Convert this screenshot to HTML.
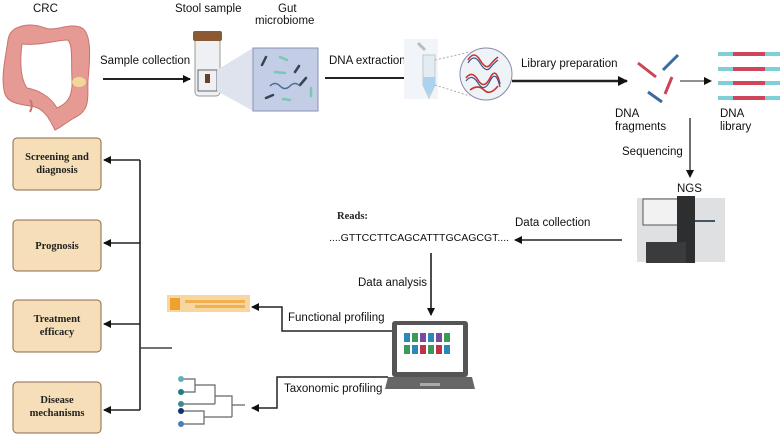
<!DOCTYPE html>
<html><head><meta charset="utf-8"><style>
html,body{margin:0;padding:0;background:#fff}
svg{display:block}
.s{font-family:"Liberation Sans",sans-serif;font-size:11.5px;fill:#111}
.b{font-family:"Liberation Serif",serif;font-weight:bold;font-size:10.5px;fill:#222}
</style></head><body>
<svg width="780" height="434" viewBox="0 0 780 434" xmlns="http://www.w3.org/2000/svg">
<defs>
<marker id="a" markerWidth="8" markerHeight="8" refX="7" refY="4" orient="auto" markerUnits="userSpaceOnUse"><path d="M0,0 L8,4 L0,8 z" fill="#111"/></marker>
<marker id="a2" markerWidth="10" markerHeight="10" refX="9" refY="5" orient="auto" markerUnits="userSpaceOnUse"><path d="M0,0 L10,5 L0,10 z" fill="#111"/></marker>
</defs>
<text class="s" x="33" y="12">CRC</text>
<text class="s" x="175" y="12">Stool sample</text>
<text class="s" x="278" y="12">Gut</text>
<text class="s" x="255" y="24">microbiome</text>
<text class="s" x="100" y="64">Sample collection</text>
<text class="s" x="329" y="64">DNA extraction</text>
<text class="s" x="521" y="67">Library preparation</text>
<text class="s" x="615" y="117">DNA</text><text class="s" x="615" y="130">fragments</text>
<text class="s" x="720" y="117">DNA</text><text class="s" x="720" y="130">library</text>
<text class="s" x="622" y="155">Sequencing</text>
<text class="s" x="677" y="192">NGS</text>
<text class="s" x="515" y="226">Data collection</text>
<text class="b" x="337" y="219">Reads:</text>
<text class="s" x="329" y="241" style="font-size:10.5px">....GTTCCTTCAGCATTTGCAGCGT....</text>
<text class="s" x="358" y="286">Data analysis</text>
<text class="s" x="288" y="321">Functional profiling</text>
<text class="s" x="284" y="392">Taxonomic profiling</text>
<!-- colon -->
<g fill="#e69a94" stroke="#c9736e" stroke-width="1">
<path d="M8,40 C10,25 30,22 45,28 C55,32 70,22 82,28 C92,34 90,60 88,80 C87,95 92,110 74,118 C64,124 60,128 55,130 C50,120 45,110 35,107 C22,104 6,105 4,90 C1,75 6,55 8,40 Z M22,44 C20,60 20,78 27,88 C38,90 50,96 57,108 C66,104 73,98 72,80 C71,60 73,46 68,40 C55,40 40,46 22,44 Z"/>
</g>
<path d="M30,100 C33,104 32,108 30,112" stroke="#c9736e" fill="none" stroke-width="2"/>
<ellipse cx="79" cy="82" rx="7" ry="5" fill="#f1d79a"/>
<line x1="103" y1="79" x2="190" y2="79" stroke="#222" stroke-width="2" marker-end="url(#a)"/>
<!-- stool tube -->
<rect x="195" y="38" width="25" height="58" rx="4" fill="#eef0f3" stroke="#999"/>
<rect x="193" y="31" width="29" height="10" rx="2" fill="#8a5a35"/>
<rect x="198" y="70" width="19" height="21" fill="none" stroke="#666"/>
<rect x="205" y="74" width="5" height="9" fill="#6b3f26"/>
<polygon points="217,70 253,48 253,111 217,91" fill="#dfe3ee"/>
<rect x="253" y="48" width="65" height="63" fill="#c3cde5" stroke="#8793b5"/>
<g stroke="#345" stroke-width="2.5" stroke-linecap="round">
<line x1="262" y1="65" x2="266" y2="57"/><line x1="295" y1="72" x2="299" y2="66"/><line x1="300" y1="85" x2="306" y2="78"/><line x1="266" y1="98" x2="273" y2="95"/>
</g>
<g stroke="#7cc6b6" stroke-width="2.5" stroke-linecap="round">
<line x1="280" y1="57" x2="287" y2="60"/><line x1="275" y1="72" x2="285" y2="73"/><line x1="283" y1="99" x2="290" y2="100"/><line x1="311" y1="96" x2="311" y2="88"/>
</g>
<path d="M270,86 q5,-5 10,0 t10,0 t10,0" stroke="#4a6d95" fill="none" stroke-width="1.5"/>
<line x1="325" y1="78" x2="413" y2="78" stroke="#222" stroke-width="2" marker-end="url(#a)"/>
<!-- ep tube -->
<rect x="404" y="39" width="34" height="60" fill="#f1f4f8"/>
<path d="M423,55 L435,55 L435,85 L429,98 L423,85 Z" fill="#e4ecf3" stroke="#bcc"/>
<path d="M423,77 L435,77 L435,85 L429,96 L423,85 Z" fill="#a9d3ee"/>
<path d="M418,43 L425,50" stroke="#bbb" stroke-width="3"/>
<line x1="435" y1="60" x2="470" y2="52" stroke="#aaa" stroke-dasharray="2,2"/>
<line x1="435" y1="85" x2="470" y2="96" stroke="#aaa" stroke-dasharray="2,2"/>
<circle cx="486" cy="74" r="26" fill="#eef3f8" stroke="#88a"/>
<path d="M468,60 q6,-10 12,0 t10,5 t8,-8 M466,78 q6,-8 12,2 t12,-2 t10,6 M470,90 q8,-6 14,0 t14,-4" stroke="#c33" stroke-width="1.6" fill="none"/>
<path d="M468,63 q6,-10 12,0 t10,5 t8,-8 M466,81 q6,-8 12,2 t12,-2 t10,6" stroke="#358" stroke-width="1.2" fill="none"/>
<line x1="512" y1="81" x2="627" y2="81" stroke="#222" stroke-width="2.5" marker-end="url(#a2)"/>
<!-- fragments -->
<g stroke-width="3">
<line x1="638" y1="63" x2="656" y2="77" stroke="#cc4455"/><line x1="663" y1="70" x2="678" y2="55" stroke="#3a6aa0"/>
<line x1="665" y1="94" x2="672" y2="77" stroke="#cc4455"/><line x1="648" y1="92" x2="662" y2="102" stroke="#3a6aa0"/>
</g>
<line x1="680" y1="81" x2="711" y2="81" stroke="#222" stroke-width="1" marker-end="url(#a)"/>
<g>
<rect x="718" y="52" width="62" height="4" fill="#7fd0d6"/><rect x="733" y="52" width="32" height="4" fill="#d0455a"/>
<rect x="718" y="67" width="62" height="4" fill="#7fd0d6"/><rect x="733" y="67" width="32" height="4" fill="#d0455a"/>
<rect x="718" y="81" width="62" height="4" fill="#7fd0d6"/><rect x="733" y="81" width="32" height="4" fill="#d0455a"/>
<rect x="718" y="96" width="62" height="4" fill="#7fd0d6"/><rect x="733" y="96" width="32" height="4" fill="#d0455a"/>
</g>
<line x1="690" y1="118" x2="690" y2="177" stroke="#111" stroke-width="1.2" marker-end="url(#a)"/>
<!-- NGS -->
<rect x="637" y="198" width="88" height="64" fill="#dfe0e2"/>
<rect x="643" y="199" width="36" height="26" fill="#f2f2f2" stroke="#555"/>
<rect x="677" y="196" width="18" height="67" fill="#2d2e30"/>
<rect x="646" y="242" width="40" height="21" fill="#3a3b3d"/>
<rect x="695" y="220" width="20" height="2" fill="#456"/>
<line x1="622" y1="240" x2="515" y2="240" stroke="#222" stroke-width="1.5" marker-end="url(#a)"/>
<line x1="431" y1="253" x2="431" y2="315" stroke="#111" stroke-width="1.5" marker-end="url(#a)"/>
<!-- laptop -->
<rect x="392" y="321" width="76" height="56" rx="3" fill="#555"/>
<rect x="397" y="325" width="66" height="47" fill="#fff"/>
<g>
<rect x="404" y="333" width="6" height="9" fill="#2a8ab5"/><rect x="412" y="333" width="6" height="9" fill="#3a9a5a"/><rect x="420" y="333" width="6" height="9" fill="#7b4aa0"/><rect x="428" y="333" width="6" height="9" fill="#2a8ab5"/><rect x="436" y="333" width="6" height="9" fill="#7b4aa0"/><rect x="444" y="333" width="6" height="9" fill="#3a9a5a"/>
<rect x="404" y="345" width="6" height="9" fill="#3a9a5a"/><rect x="412" y="345" width="6" height="9" fill="#2a8ab5"/><rect x="420" y="345" width="6" height="9" fill="#c2304a"/><rect x="428" y="345" width="6" height="9" fill="#3a9a5a"/><rect x="436" y="345" width="6" height="9" fill="#c2304a"/><rect x="444" y="345" width="6" height="9" fill="#2a8ab5"/>
</g>
<path d="M388,377 L472,377 L475,389 L385,389 Z" fill="#666"/>
<rect x="420" y="383" width="20" height="3" fill="#aaa"/>
<polyline points="392,331 282,331 282,307 252,307" fill="none" stroke="#222" stroke-width="1.5" marker-end="url(#a)"/>
<polyline points="388,377 277,377 277,408 252,408" fill="none" stroke="#222" stroke-width="1.5" marker-end="url(#a)"/>
<!-- heatmap -->
<rect x="167" y="295" width="83" height="17" fill="#f7d6a0"/>
<rect x="170" y="298" width="10" height="12" fill="#f0a030"/>
<rect x="185" y="300" width="60" height="3" fill="#f3b050"/><rect x="195" y="305" width="50" height="3" fill="#f3b050"/>
<!-- tree -->
<g stroke="#666" stroke-width="1.2" fill="none">
<path d="M181,379 H195 V392 H181 M195,385 H215 V404 M181,404 H215 M181,411 H204 V424 H181 M204,417 H232 M215,396 H232 V417 M232,405 H245"/>
</g>
<circle cx="181" cy="379" r="3" fill="#5fb3b8"/><circle cx="181" cy="392" r="3" fill="#1e7a85"/><circle cx="181" cy="404" r="3" fill="#3f8a8f"/><circle cx="181" cy="411" r="3" fill="#14307a"/><circle cx="181" cy="424" r="3" fill="#4a7ec0"/>
<!-- left tree -->
<polyline points="140,160 140,410" fill="none" stroke="#222" stroke-width="1.6"/>
<line x1="140" y1="160" x2="104" y2="160" stroke="#222" stroke-width="1.6" marker-end="url(#a)"/>
<line x1="140" y1="243" x2="104" y2="243" stroke="#222" stroke-width="1.6" marker-end="url(#a)"/>
<line x1="140" y1="324" x2="104" y2="324" stroke="#222" stroke-width="1.6" marker-end="url(#a)"/>
<line x1="140" y1="410" x2="104" y2="410" stroke="#222" stroke-width="1.6" marker-end="url(#a)"/>
<line x1="140" y1="348" x2="172" y2="348" stroke="#444" stroke-width="1.6"/>
<g fill="#f5deb8" stroke="#8a6a4a" stroke-width="1">
<rect x="13" y="138" width="88" height="52" rx="4"/>
<rect x="13" y="220" width="88" height="51" rx="4"/>
<rect x="13" y="300" width="88" height="52" rx="4"/>
<rect x="13" y="382" width="88" height="51" rx="4"/>
</g>
<text class="b" x="57" y="160" text-anchor="middle">Screening and</text>
<text class="b" x="57" y="173" text-anchor="middle">diagnosis</text>
<text class="b" x="57" y="249" text-anchor="middle">Prognosis</text>
<text class="b" x="57" y="322" text-anchor="middle">Treatment</text>
<text class="b" x="57" y="335" text-anchor="middle">efficacy</text>
<text class="b" x="57" y="403" text-anchor="middle">Disease</text>
<text class="b" x="57" y="416" text-anchor="middle">mechanisms</text>
</svg>
</body></html>
